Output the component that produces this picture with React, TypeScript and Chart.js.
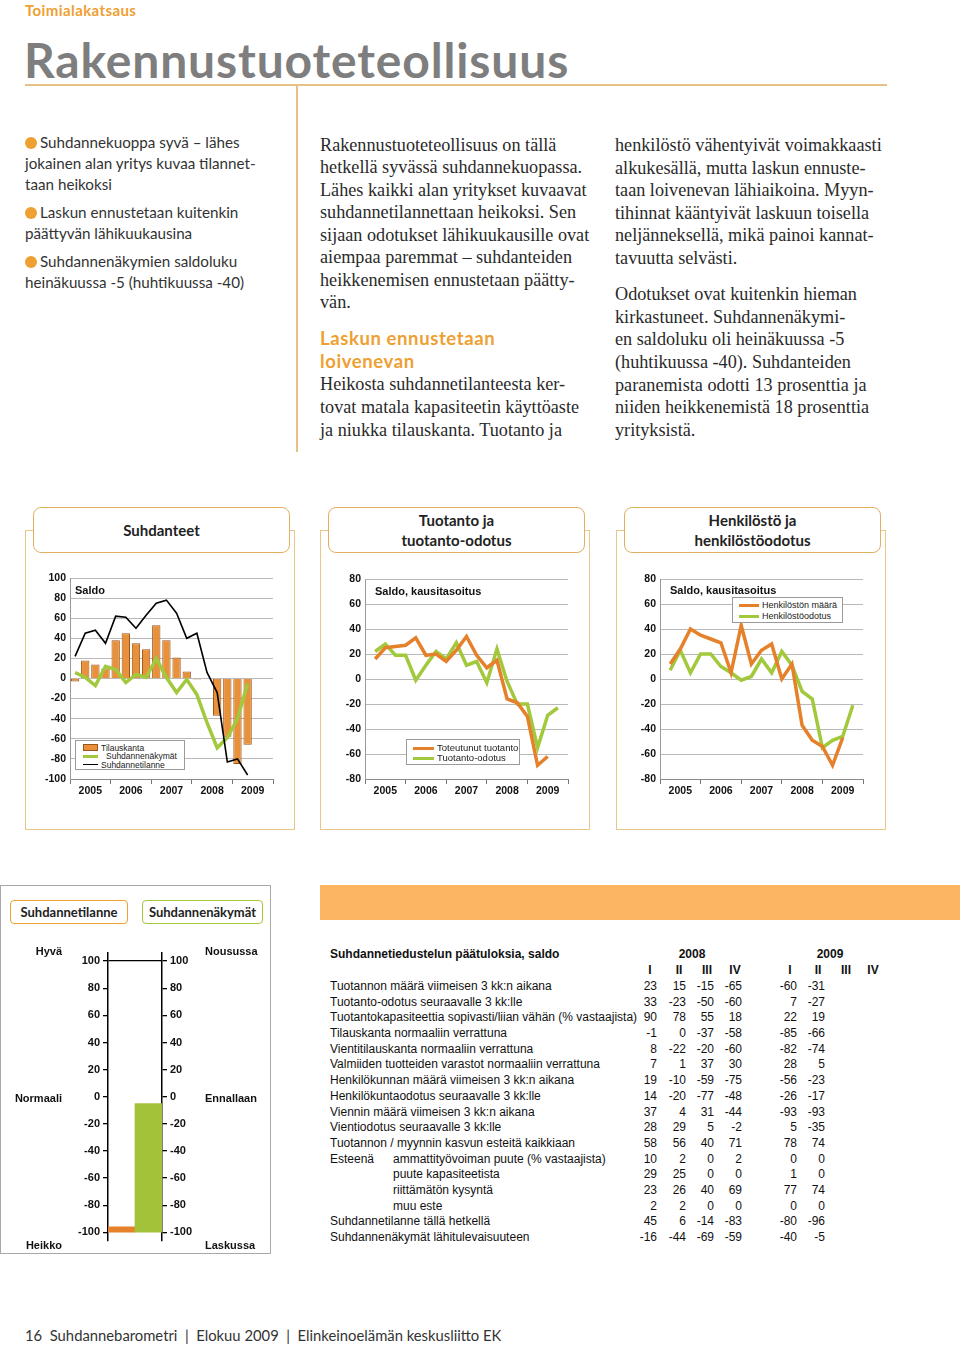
import React, { useEffect, useRef } from "react";
import { Chart, registerables } from "chart.js";
Chart.register(...registerables);

// ---------- DATA ----------
const startYear = 2005;
const yearLabels = ["2005", "2006", "2007", "2008", "2009"];

// Suhdanteet (quarterly, 2005 Q1 – 2009 Q2)
const tilauskanta = [-3, 18, 14, 10, 38, 45, 35, 29, 53, 38, 21, 7, -1, 0, -37, -58, -85, -66];
const suhdannenakymat = [6, 1, -7, 12, 9, -4, 4, 1, 20, 1, -14, -1, -16, -44, -69, -59, -40, -5];
const suhdannetilanne = [22, 45, 48, 35, 62, 61, 50, 63, 75, 78, 65, 40, 45, 6, -14, -83, -80, -96];

// Tuotanto ja tuotanto-odotus
const toteutunutTuotanto = [16, 25, 26, 27, 33, 19, 20, 14, 23, 34, 19, 9, 15, -16, -19, -30, -69, -62];
const tuotantoOdotus = [22, 28, 19, 19, -1, 11, 22, 16, 29, 11, 14, -3, 24, -2, -20, -20, -55, -29, -23];

// Henkilöstö ja henkilöstöodotus
const henkilostonMaara = [12, 24, 40, 35, 32, 29, 5, 43, 12, 23, 28, 0, 12, -37, -49, -54, -69, -47];
const henkilostoOdotus = [7, 23, 5, 20, 20, 10, 5, -1, 2, 16, 5, 22, 11, -10, -16, -55, -49, -46, -21];

// Gauge
const gaugeLabels = ["Suhdannetilanne", "Suhdannenäkymät"];
const gaugeValues = [-96, -5];

// Table
const tableTitle = "Suhdannetiedustelun päätuloksia, saldo";
const tableYears = ["2008", "2009"];
const quarterLabels = ["I", "II", "III", "IV"];
const rowLabels = [
  "Tuotannon määrä viimeisen 3 kk:n aikana",
  "Tuotanto-odotus seuraavalle 3 kk:lle",
  "Tuotantokapasiteettia sopivasti/liian vähän (% vastaajista)",
  "Tilauskanta normaaliin verrattuna",
  "Vientitilauskanta normaaliin verrattuna",
  "Valmiiden tuotteiden varastot normaaliin verrattuna",
  "Henkilökunnan määrä viimeisen 3 kk:n aikana",
  "Henkilökuntaodotus seuraavalle 3 kk:lle",
  "Viennin määrä viimeisen 3 kk:n aikana",
  "Vientiodotus seuraavalle 3 kk:lle",
  "Tuotannon / myynnin kasvun esteitä kaikkiaan",
  "ammattityövoiman puute (% vastaajista)",
  "puute kapasiteetista",
  "riittämätön kysyntä",
  "muu este",
  "Suhdannetilanne tällä hetkellä",
  "Suhdannenäkymät lähitulevaisuuteen",
];
const rowIndent = [0, 0, 0, 0, 0, 0, 0, 0, 0, 0, 0, 1, 1, 1, 1, 0, 0];
const values2008 = [
  [23, 15, -15, -65], [33, -23, -50, -60], [90, 78, 55, 18], [-1, 0, -37, -58],
  [8, -22, -20, -60], [7, 1, 37, 30], [19, -10, -59, -75], [14, -20, -77, -48],
  [37, 4, 31, -44], [28, 29, 5, -2], [58, 56, 40, 71], [10, 2, 0, 2],
  [29, 25, 0, 0], [23, 26, 40, 69], [2, 2, 0, 0], [45, 6, -14, -83], [-16, -44, -69, -59],
];
const values2009 = [
  [-60, -31], [7, -27], [22, 19], [-85, -66], [-82, -74], [28, 5], [-56, -23], [-26, -17],
  [-93, -93], [5, -35], [78, 74], [0, 0], [1, 0], [77, 74], [0, 0], [-80, -96], [-40, -5],
];

// Texts
const leftBullets = [
  ["Suhdannekuoppa syvä – lähes", "jokainen alan yritys kuvaa tilannet-", "taan heikoksi"],
  ["Laskun ennustetaan kuitenkin", "päättyvän lähikuukausina"],
  ["Suhdannenäkymien saldoluku", "heinäkuussa -5 (huhtikuussa -40)"],
];
const midLines1 = [
  "Rakennustuoteteollisuus on tällä",
  "hetkellä syvässä suhdannekuopassa.",
  "Lähes kaikki alan yritykset kuvaavat",
  "suhdannetilannettaan heikoksi. Sen",
  "sijaan odotukset lähikuukausille ovat",
  "aiempaa paremmat – suhdanteiden",
  "heikkenemisen ennustetaan päätty-",
  "vän.",
];
const midSub = ["Laskun ennustetaan", "loivenevan"];
const midLines2 = [
  "Heikosta suhdannetilanteesta ker-",
  "tovat matala kapasiteetin käyttöaste",
  "ja niukka tilauskanta. Tuotanto ja",
];
const rightLines1 = [
  "henkilöstö vähentyivät voimakkaasti",
  "alkukesällä, mutta laskun ennuste-",
  "taan loivenevan lähiaikoina. Myyn-",
  "tihinnat kääntyivät laskuun toisella",
  "neljänneksellä, mikä painoi kannat-",
  "tavuutta selvästi.",
];
const rightLines2 = [
  "Odotukset ovat kuitenkin hieman",
  "kirkastuneet. Suhdannenäkymi-",
  "en saldoluku oli heinäkuussa -5",
  "(huhtikuussa -40). Suhdanteiden",
  "paranemista odotti 13 prosenttia ja",
  "niiden heikkenemistä 18 prosenttia",
  "yrityksistä.",
];

// ---------- STYLE ----------
const ORANGE = "#e5802b";
const GREEN = "#a2c83c";
const BAR_FILL = "#e8913a";
const BAR_BORDER = "#9a5518";
const GRID = "#b9b9b9";
const ACCENT = "#eea032";
const PANEL = "#ebc68a";
const HEAD = "#e3b062";
const AX_FONT = { family: "'Liberation Sans', Arial, sans-serif", size: 10.5, weight: "bold" as const };
const SANS = "'Liberation Sans', Arial, sans-serif";
const DIN = "Lato, 'Noto Sans', sans-serif";
const SERIF = "'Liberation Serif', 'Times New Roman', serif";

// ---------- HELPERS ----------
function Txt({ x, y, anchor = "start", style = {}, children }: any) {
  const tx = anchor === "middle" ? "-50%" : anchor === "end" ? "-100%" : "0";
  return (
    <div
      style={{
        position: "absolute",
        left: x,
        top: y,
        transform: `translate(${tx}, -50%)`,
        whiteSpace: "nowrap",
        lineHeight: 1.15,
        ...style,
      }}
    >
      {children}
    </div>
  );
}

function ChartCanvas({ left, top, width, height, make }: any) {
  const ref = useRef<HTMLCanvasElement | null>(null);
  useEffect(() => {
    if (!ref.current) return;
    const chart = new Chart(ref.current, make());
    return () => chart.destroy();
  }, []);
  return (
    <canvas
      ref={ref}
      width={width}
      height={height}
      style={{ position: "absolute", left, top, width, height }}
    />
  );
}

const toPoints = (vals: number[], offset: number) =>
  vals.map((v, i) => ({ x: startYear + (i + offset) / 4, y: v }));

function timeChartOptions(yMin: number, yMax: number, padTop: number) {
  return {
    animation: false,
    responsive: false,
    maintainAspectRatio: false,
    layout: { padding: { top: padTop, right: 22, left: 0, bottom: 0 } },
    plugins: { legend: { display: false }, tooltip: { enabled: false } },
    scales: {
      x: {
        type: "linear",
        min: startYear,
        max: startYear + yearLabels.length,
        offset: false,
        ticks: {
          stepSize: 0.5,
          autoSkip: false,
          maxRotation: 0,
          padding: 1,
          color: "#111",
          font: AX_FONT,
          callback: (v: number) => {
            const idx = Math.floor(v) - startYear;
            return Math.abs((v % 1) - 0.5) < 0.01 ? yearLabels[idx] : "";
          },
        },
        grid: {
          drawOnChartArea: false,
          offset: false,
          tickLength: 5,
          color: (ctx: any) =>
            ctx.tick && Math.abs(ctx.tick.value % 1) < 0.01 ? "#777" : "rgba(0,0,0,0)",
        },
        border: { display: true, color: "#8a8a8a", width: 1 },
        afterFit: (s: any) => {
          s.height = 26;
        },
      },
      y: {
        min: yMin,
        max: yMax,
        ticks: { stepSize: 20, color: "#111", font: AX_FONT, padding: 4 },
        grid: { color: GRID, drawTicks: false, lineWidth: 1 },
        border: { display: true, color: "#9a9a9a", width: 1 },
        afterFit: (s: any) => {
          s.width = 45;
        },
      },
    },
  };
}

function makeSuhdanteet() {
  return {
    type: "line",
    data: {
      datasets: [
        {
          type: "bar",
          label: "Tilauskanta",
          data: toPoints(tilauskanta, 0.5),
          backgroundColor: BAR_FILL,
          borderColor: BAR_BORDER,
          borderWidth: 1,
          barPercentage: 1,
          categoryPercentage: 0.82,
          order: 3,
        },
        {
          label: "Suhdannenäkymät",
          data: toPoints(suhdannenakymat, 0.5),
          borderColor: GREEN,
          borderWidth: 3.5,
          pointRadius: 0,
          tension: 0,
          order: 2,
        },
        {
          label: "Suhdannetilanne",
          data: toPoints(suhdannetilanne, 0.5),
          borderColor: "#000",
          borderWidth: 1.6,
          pointRadius: 0,
          tension: 0,
          order: 1,
        },
      ],
    },
    options: timeChartOptions(-100, 100, 13),
  };
}

function makeTwoLine(orangeVals: number[], greenVals: number[], oLabel: string, gLabel: string) {
  return () => ({
    type: "line",
    data: {
      datasets: [
        {
          label: gLabel,
          data: toPoints(greenVals, 1),
          borderColor: GREEN,
          borderWidth: 3.5,
          pointRadius: 0,
          tension: 0,
          order: 2,
        },
        {
          label: oLabel,
          data: toPoints(orangeVals, 1),
          borderColor: ORANGE,
          borderWidth: 3.5,
          pointRadius: 0,
          tension: 0,
          order: 1,
        },
      ],
    },
    options: timeChartOptions(-80, 80, 14),
  });
}

function gaugeAxis(position: string, width: number, onArea: boolean) {
  return {
    position,
    min: -106,
    max: 106,
    ticks: {
      stepSize: 20,
      includeBounds: false,
      padding: 3,
      color: "#111",
      font: { family: SANS, size: 11, weight: "bold" as const },
    },
    grid: {
      drawOnChartArea: onArea,
      tickLength: 5,
      tickColor: "#000",
      lineWidth: 1.3,
      color: (ctx: any) => (ctx.tick && ctx.tick.value === 100 ? "#000" : "rgba(0,0,0,0)"),
    },
    border: { display: true, color: "#000", width: 1.5 },
    afterBuildTicks: (s: any) => {
      s.ticks = s.ticks.filter((t: any) => t.value % 20 === 0);
    },
    afterFit: (s: any) => {
      s.width = width;
    },
  };
}

function makeGauge() {
  return {
    type: "bar",
    data: {
      labels: gaugeLabels,
      datasets: [
        {
          data: gaugeValues.map((v) => [-100, v]),
          backgroundColor: [ORANGE, "#a3c23a"],
          borderWidth: 0,
          barPercentage: 1,
          categoryPercentage: 1,
        },
      ],
    },
    options: {
      animation: false,
      responsive: false,
      maintainAspectRatio: false,
      layout: { padding: { top: 13, bottom: 9, left: 0, right: 0 } },
      plugins: { legend: { display: false }, tooltip: { enabled: false } },
      scales: {
        x: { display: false },
        y: gaugeAxis("left", 68, true),
        y2: gaugeAxis("right", 58, false),
      },
    },
  };
}

function Panel({ left, title }: any) {
  return (
    <>
      <div
        style={{
          position: "absolute",
          left,
          top: 530,
          width: 270,
          height: 300,
          border: `1.5px solid ${PANEL}`,
          boxSizing: "border-box",
        }}
      />
      <div
        style={{
          position: "absolute",
          left: left + 8,
          top: 507,
          width: 257,
          height: 46,
          border: `1.5px solid ${HEAD}`,
          borderRadius: 8,
          background: "#fff",
          boxSizing: "border-box",
          display: "flex",
          flexDirection: "column",
          alignItems: "center",
          justifyContent: "center",
          fontFamily: DIN,
          fontWeight: 700,
          fontSize: 15,
          lineHeight: "20px",
          color: "#222",
        }}
      >
        {title.map((t: string) => (
          <div key={t}>{t}</div>
        ))}
      </div>
    </>
  );
}

function LegendBox({ left, top, width, height, items }: any) {
  return (
    <div
      style={{
        position: "absolute",
        left,
        top,
        width,
        height,
        border: "1px solid #9a9a9a",
        background: "#fff",
        boxSizing: "border-box",
      }}
    >
      {items.map((it: any, i: number) => (
        <div key={i}>
          {it.kind === "bar" ? (
            <div
              style={{
                position: "absolute",
                left: it.sx,
                top: it.y - 3.5,
                width: it.sw,
                height: 7,
                background: BAR_FILL,
                border: `1px solid ${BAR_BORDER}`,
                boxSizing: "border-box",
              }}
            />
          ) : (
            <div
              style={{
                position: "absolute",
                left: it.sx,
                top: it.y - it.lw / 2,
                width: it.sw,
                height: it.lw,
                background: it.color,
              }}
            />
          )}
          <Txt x={it.tx} y={it.y} style={{ fontFamily: SANS, fontSize: it.fs, color: "#222", lineHeight: 1 }}>
            {it.label}
          </Txt>
        </div>
      ))}
    </div>
  );
}

const body = { fontFamily: SERIF, fontSize: 18.2, color: "#2a2a2a" };

export default function App() {
  const rowY = (i: number) => 987 + i * 15.69;
  const col2008 = [657, 686, 714, 742];
  const col2009 = [797, 825, 853, 880];
  const cellStyle = { fontFamily: SANS, fontSize: 12, color: "#111" };

  return (
    <div
      style={{
        position: "absolute",
        left: 0,
        top: 0,
        width: 960,
        height: 1347,
        background: "#fff",
        overflow: "hidden",
      }}
    >
      {/* Header */}
      <Txt x={25} y={11} style={{ fontFamily: DIN, fontWeight: 700, fontSize: 15, color: ACCENT, letterSpacing: 0.4 }}>
        Toimialakatsaus
      </Txt>
      <Txt x={24} y={60} style={{ fontFamily: DIN, fontWeight: 700, fontSize: 48, color: "#7e7e7e", letterSpacing: 0.85 }}>
        Rakennustuoteteollisuus
      </Txt>
      <div style={{ position: "absolute", left: 25, top: 84, width: 862, height: 1.5, background: "#e6c185" }} />
      <div style={{ position: "absolute", left: 296, top: 85, width: 1.5, height: 367, background: "#e6c185" }} />

      {/* Left bullets */}
      {leftBullets.map((lines, b) => {
        const y0 = [143, 213, 262][b];
        return (
          <React.Fragment key={b}>
            <div
              style={{
                position: "absolute",
                left: 25,
                top: y0 - 6,
                width: 12,
                height: 12,
                borderRadius: 6,
                background: ACCENT,
              }}
            />
            {lines.map((l, i) => (
              <Txt
                key={i}
                x={i === 0 ? 40 : 25}
                y={y0 + i * 21}
                style={{ fontFamily: DIN, fontSize: 15.2, color: "#333" }}
              >
                {l}
              </Txt>
            ))}
          </React.Fragment>
        );
      })}

      {/* Middle column */}
      {midLines1.map((l, i) => (
        <Txt key={"m1" + i} x={320} y={145 + i * 22.45} style={body}>
          {l}
        </Txt>
      ))}
      {midSub.map((l, i) => (
        <Txt key={"ms" + i} x={320} y={339 + i * 22.8} style={{ fontFamily: DIN, fontWeight: 700, fontSize: 18.5, color: ACCENT, letterSpacing: 0.6 }}>
          {l}
        </Txt>
      ))}
      {midLines2.map((l, i) => (
        <Txt key={"m2" + i} x={320} y={384 + i * 22.8} style={body}>
          {l}
        </Txt>
      ))}

      {/* Right column */}
      {rightLines1.map((l, i) => (
        <Txt key={"r1" + i} x={615} y={145 + i * 22.6} style={body}>
          {l}
        </Txt>
      ))}
      {rightLines2.map((l, i) => (
        <Txt key={"r2" + i} x={615} y={294 + i * 22.67} style={body}>
          {l}
        </Txt>
      ))}

      {/* Chart panels */}
      <Panel left={25} title={["Suhdanteet"]} />
      <Panel left={320} title={["Tuotanto ja", "tuotanto-odotus"]} />
      <Panel left={616} title={["Henkilöstö ja", "henkilöstöodotus"]} />

      <ChartCanvas left={25} top={565} width={270} height={240} make={makeSuhdanteet} />
      <ChartCanvas
        left={320}
        top={565}
        width={270}
        height={240}
        make={makeTwoLine(toteutunutTuotanto, tuotantoOdotus, "Toteutunut tuotanto", "Tuotanto-odotus")}
      />
      <ChartCanvas
        left={615}
        top={565}
        width={270}
        height={240}
        make={makeTwoLine(henkilostonMaara, henkilostoOdotus, "Henkilöstön määrä", "Henkilöstöodotus")}
      />

      <Txt x={75} y={590} style={{ fontFamily: SANS, fontWeight: 700, fontSize: 11, color: "#111" }}>
        Saldo
      </Txt>
      <Txt x={375} y={591} style={{ fontFamily: SANS, fontWeight: 700, fontSize: 11, color: "#111" }}>
        Saldo, kausitasoitus
      </Txt>
      <Txt x={670} y={590} style={{ fontFamily: SANS, fontWeight: 700, fontSize: 11, color: "#111" }}>
        Saldo, kausitasoitus
      </Txt>

      <LegendBox
        left={75}
        top={740}
        width={110}
        height={30}
        items={[
          { kind: "bar", label: "Tilauskanta", y: 6.5, sx: 7, sw: 15, tx: 25, fs: 8.5 },
          { kind: "line", label: "Suhdannenäkymät", color: GREEN, lw: 3, y: 15, sx: 7, sw: 15, tx: 30, fs: 8.5 },
          { kind: "line", label: "Suhdannetilanne", color: "#000", lw: 1.3, y: 23.5, sx: 7, sw: 15, tx: 25, fs: 8.5 },
        ]}
      />
      <LegendBox
        left={406}
        top={739}
        width={114}
        height={26}
        items={[
          { kind: "line", label: "Toteutunut tuotanto", color: ORANGE, lw: 3, y: 8, sx: 6, sw: 21, tx: 30, fs: 9.5 },
          { kind: "line", label: "Tuotanto-odotus", color: GREEN, lw: 3, y: 18, sx: 6, sw: 21, tx: 30, fs: 9.5 },
        ]}
      />
      <LegendBox
        left={732}
        top={597}
        width={111}
        height={26}
        items={[
          { kind: "line", label: "Henkilöstön määrä", color: ORANGE, lw: 3, y: 7, sx: 6, sw: 20, tx: 29, fs: 9 },
          { kind: "line", label: "Henkilöstöodotus", color: GREEN, lw: 3, y: 18, sx: 6, sw: 20, tx: 29, fs: 9 },
        ]}
      />

      {/* Gauge panel */}
      <div
        style={{
          position: "absolute",
          left: 0,
          top: 885,
          width: 271,
          height: 369,
          border: "1px solid #a8a8a8",
          boxSizing: "border-box",
        }}
      />
      <div
        style={{
          position: "absolute",
          left: 10,
          top: 900,
          width: 118,
          height: 24,
          border: `1.5px solid ${ACCENT}`,
          borderRadius: 4,
          boxSizing: "border-box",
          fontFamily: DIN,
          fontWeight: 700,
          fontSize: 13,
          color: "#222",
          display: "flex",
          alignItems: "center",
          justifyContent: "center",
        }}
      >
        Suhdannetilanne
      </div>
      <div
        style={{
          position: "absolute",
          left: 142,
          top: 900,
          width: 121,
          height: 24,
          border: `1.5px solid ${GREEN}`,
          borderRadius: 4,
          boxSizing: "border-box",
          fontFamily: DIN,
          fontWeight: 700,
          fontSize: 13,
          color: "#222",
          display: "flex",
          alignItems: "center",
          justifyContent: "center",
        }}
      >
        Suhdannenäkymät
      </div>
      <ChartCanvas left={40} top={940} width={180} height={310} make={makeGauge} />
      {[
        ["Hyvä", 951],
        ["Normaali", 1098],
        ["Heikko", 1245],
      ].map(([t, y]) => (
        <Txt key={t as string} x={62} y={y} anchor="end" style={{ fontFamily: SANS, fontWeight: 700, fontSize: 11, color: "#111" }}>
          {t}
        </Txt>
      ))}
      {[
        ["Nousussa", 951],
        ["Ennallaan", 1098],
        ["Laskussa", 1245],
      ].map(([t, y]) => (
        <Txt key={t as string} x={205} y={y} style={{ fontFamily: SANS, fontWeight: 700, fontSize: 11, color: "#111" }}>
          {t}
        </Txt>
      ))}

      {/* Orange banner */}
      <div style={{ position: "absolute", left: 320, top: 885, width: 640, height: 35, background: "#fbb563" }} />

      {/* Table */}
      <Txt x={330} y={955} style={{ ...cellStyle, fontWeight: 700 }}>
        {tableTitle}
      </Txt>
      <Txt x={692} y={955} anchor="middle" style={{ ...cellStyle, fontWeight: 700 }}>
        {tableYears[0]}
      </Txt>
      <Txt x={830} y={955} anchor="middle" style={{ ...cellStyle, fontWeight: 700 }}>
        {tableYears[1]}
      </Txt>
      {quarterLabels.map((q, i) => (
        <React.Fragment key={q}>
          <Txt x={col2008[i] - 7} y={971} anchor="middle" style={{ ...cellStyle, fontWeight: 700 }}>
            {q}
          </Txt>
          <Txt x={col2009[i] - 7} y={971} anchor="middle" style={{ ...cellStyle, fontWeight: 700 }}>
            {q}
          </Txt>
        </React.Fragment>
      ))}
      <Txt x={330} y={rowY(11)} style={cellStyle}>
        Esteenä
      </Txt>
      {rowLabels.map((l, r) => (
        <React.Fragment key={r}>
          <Txt x={rowIndent[r] ? 393 : 330} y={rowY(r)} style={cellStyle}>
            {l}
          </Txt>
          {values2008[r].map((v, c) => (
            <Txt key={"a" + c} x={col2008[c]} y={rowY(r)} anchor="end" style={cellStyle}>
              {v}
            </Txt>
          ))}
          {values2009[r].map((v, c) => (
            <Txt key={"b" + c} x={col2009[c]} y={rowY(r)} anchor="end" style={cellStyle}>
              {v}
            </Txt>
          ))}
        </React.Fragment>
      ))}

      {/* Footer */}
      <Txt x={25} y={1336} style={{ fontFamily: DIN, fontSize: 14.8, color: "#333" }}>
        16&nbsp;&nbsp;Suhdannebarometri&nbsp;&nbsp;|&nbsp;&nbsp;Elokuu 2009&nbsp;&nbsp;|&nbsp;&nbsp;Elinkeinoelämän keskusliitto EK
      </Txt>
    </div>
  );
}
